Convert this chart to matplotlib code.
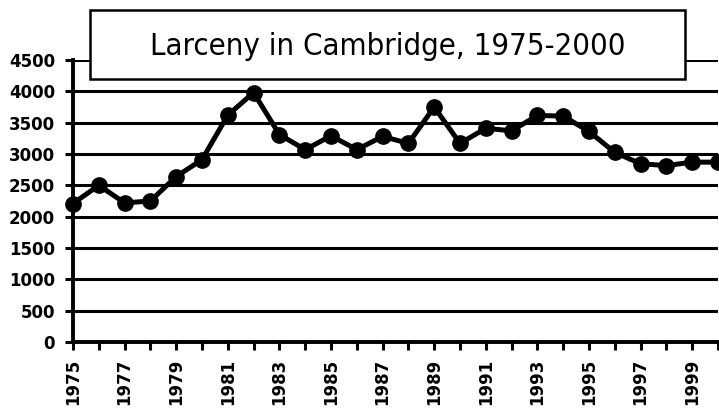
import numpy as np
import matplotlib
matplotlib.use("Agg")
import matplotlib.pyplot as plt
from matplotlib.patches import Rectangle

# Larceny counts by year
years = list(range(1975, 2001))
larceny = [2210, 2500, 2220, 2250, 2640, 2910, 3620, 3980, 3310, 3070,
           3290, 3070, 3280, 3170, 3750, 3170, 3410, 3370, 3615, 3605,
           3360, 3025, 2845, 2815, 2870, 2870]
ytick_vals = list(range(0, 5000, 500))
title_text = "Larceny in Cambridge, 1975-2000"

W, H = 719, 411
fig = plt.figure(figsize=(W / 100, H / 100), dpi=100)
fig.patch.set_facecolor("white")

# axes box in pixel terms: x 73..718, y 60..342 (from top)
ax = fig.add_axes([73 / W, (H - 342) / H, (718 - 73) / W, (342 - 60) / H])
ax.set_xlim(1975, 2000)
ax.set_ylim(0, 4500)

ax.plot(years, larceny, color="black", lw=3.6, marker="o", ms=11,
        markerfacecolor="black", markeredgecolor="black", clip_on=False, zorder=5)

ax.set_yticks(ytick_vals)
ax.set_yticklabels([str(v) for v in ytick_vals])
# tick every year, label every other one
ax.set_xticks(years)
ax.set_xticklabels([str(y) if (y - 1975) % 2 == 0 else "" for y in years],
                   rotation=90)

for lab in ax.get_yticklabels() + ax.get_xticklabels():
    lab.set_fontfamily("DejaVu Sans")
    lab.set_fontweight("bold")
    lab.set_fontsize(12)

ax.tick_params(axis="both", direction="out", length=6, width=2.2, color="black")
ax.tick_params(axis="y", pad=7)
ax.tick_params(axis="x", pad=6)
ax.yaxis.grid(True, color="black", lw=2.2)
ax.set_axisbelow(True)

for side in ["top", "right"]:
    ax.spines[side].set_visible(False)
for side in ["left", "bottom"]:
    ax.spines[side].set_linewidth(2.8)
    ax.spines[side].set_zorder(4)

# title box in figure coordinates
bx0, bx1, by0, by1 = 90, 685, 10, 79
box = Rectangle((bx0 / W, (H - by1) / H), (bx1 - bx0) / W, (by1 - by0) / H,
                transform=fig.transFigure, facecolor="white", edgecolor="black",
                lw=1.8, zorder=10)
fig.patches.append(box)
fig.text((bx0 + bx1) / 2 / W, (H - 55) / H, title_text, ha="center",
         va="baseline", fontsize=22.3, family="DejaVu Sans",
         fontstretch="condensed", zorder=11)

fig.savefig("out.png", dpi=100)
